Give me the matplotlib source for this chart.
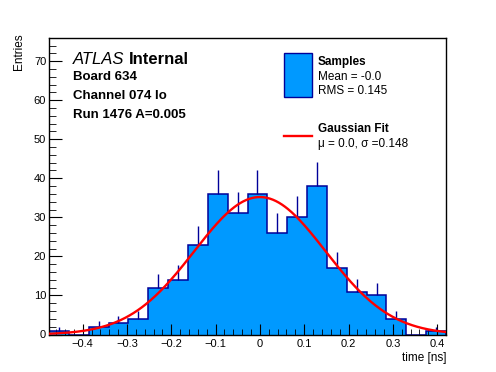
import numpy as np
import matplotlib
matplotlib.use("Agg")
import matplotlib.pyplot as plt
from matplotlib.ticker import MultipleLocator, FuncFormatter

plt.rcParams['font.family'] = ['Liberation Sans', 'DejaVu Sans']

# histogram of sample times
bin_lo = -0.476
bin_hi = 0.42
counts = [1, 0, 2, 3, 4, 12, 14, 23, 36, 31, 36, 26, 30, 38, 17, 11, 10, 4, 0, 1]

# gaussian fit
fit_amp = 35.2
fit_mu = 0.0
fit_sigma = 0.148

info_lines = ["Board 634", "Channel 074 lo", "Run 1476 A=0.005"]

fill_col = "#0099ff"
line_col = "#000099"

edges = np.linspace(bin_lo, bin_hi, len(counts) + 1)
centers = 0.5 * (edges[:-1] + edges[1:])
counts = np.array(counts, dtype=float)

fig = plt.figure(figsize=(4.96, 3.72), dpi=100)
ax = fig.add_axes([49/496, 1-334.5/372, (446-49)/496, (334.5-37.7)/372])

ax.stairs(counts, edges, fill=True, color=fill_col, zorder=1)
ax.stairs(counts, edges, baseline=0, color=line_col, lw=1.1, zorder=2)
nz = counts > 0
ax.vlines(centers[nz], counts[nz], counts[nz] + np.sqrt(counts[nz]),
          color=line_col, lw=1.0, zorder=2)

xs = np.linspace(bin_lo, bin_hi, 400)
ax.plot(xs, fit_amp * np.exp(-0.5 * ((xs - fit_mu) / fit_sigma) ** 2),
        color="red", lw=1.7, zorder=3)

ax.set_xlim(bin_lo, bin_hi)
ax.set_ylim(0, 76)

ax.xaxis.set_major_locator(MultipleLocator(0.1))
ax.xaxis.set_minor_locator(MultipleLocator(0.02))
ax.yaxis.set_major_locator(MultipleLocator(10))
ax.yaxis.set_minor_locator(MultipleLocator(2))

def xfmt(v, pos):
    if abs(v) < 1e-9:
        return "0"
    return ("%.1f" % v).replace("-", "\u2212")
ax.xaxis.set_major_formatter(FuncFormatter(xfmt))

ax.tick_params(which="both", direction="in", top=False, right=False, labelsize=8)
ax.tick_params(axis="x", which="major", length=8, pad=3)
ax.tick_params(axis="x", which="minor", length=4)
ax.tick_params(axis="y", which="major", length=9, pad=2)
ax.tick_params(axis="y", which="minor", length=5)
for s in ax.spines.values():
    s.set_linewidth(1.0)

fig.text(19/496, 1-33/372, "Entries", rotation=90, ha="center", va="top", fontsize=8.5)
fig.text(446/496, 1-361/372, "time [ns]", ha="right", va="baseline", fontsize=8.5)

# labels in the upper left
t1 = fig.text(73/496, 1-64/372, "ATLAS ", fontsize=12, style="italic", va="baseline")
fig.canvas.draw()
bb = t1.get_window_extent()
fig.text(bb.x1 / fig.bbox.width, 1-64/372, "Internal", fontsize=12,
         fontweight="bold", va="baseline")
for i, t in enumerate(info_lines):
    fig.text(73/496, 1-(80 + 19*i)/372, t, fontsize=9.5, fontweight="bold", va="baseline")

# legend drawn by hand
fig.patches.append(plt.Rectangle((283.5/496, 1-96.7/372), 28/496, 43.4/372,
                                 transform=fig.transFigure, facecolor=fill_col,
                                 edgecolor=line_col, lw=1.0))
fig.text(317.5/496, 1-65/372, "Samples", fontsize=8.5, fontweight="bold", va="baseline")
fig.text(317.5/496, 1-79.5/372, "Mean = -0.0", fontsize=8.5, va="baseline")
fig.text(317.5/496, 1-93.5/372, "RMS = 0.145", fontsize=8.5, va="baseline")
fig.lines.append(plt.Line2D([283.5/496, 311.5/496], [1-136/372, 1-136/372],
                            transform=fig.transFigure, color="red", lw=1.7))
fig.text(317.5/496, 1-132.5/372, "Gaussian Fit", fontsize=8.5, fontweight="bold", va="baseline")
fig.text(317.5/496, 1-146.5/372, "\u03bc = 0.0, \u03c3 =0.148", fontsize=8.5, va="baseline")

fig.savefig("out.png", dpi=100)
